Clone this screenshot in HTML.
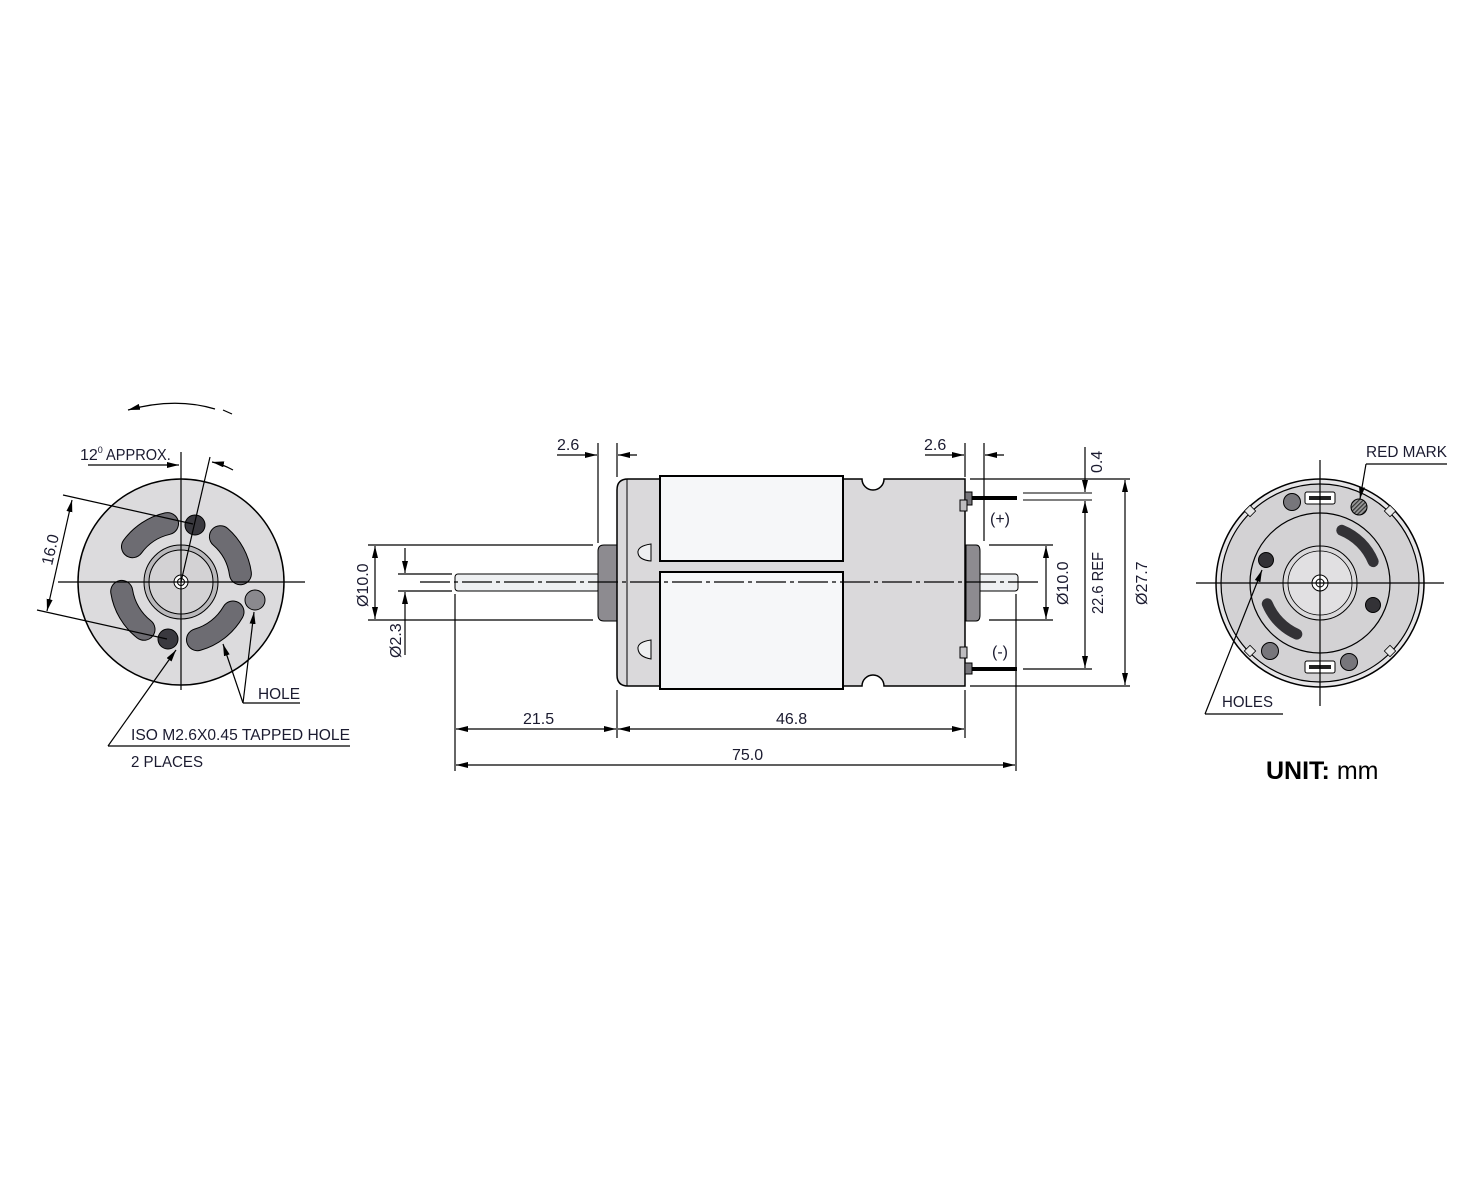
<!DOCTYPE html>
<html><head><meta charset="utf-8"><style>
html,body{margin:0;padding:0;background:#fff}
svg{display:block}
text{font-family:"Liberation Sans",sans-serif;fill:#1b1b30;font-size:16px}
</style></head><body>
<svg width="1482" height="1177" viewBox="0 0 1482 1177" xmlns="http://www.w3.org/2000/svg">
<defs>
<marker id="a" viewBox="0 0 12 6" refX="12" refY="3" markerWidth="12" markerHeight="6" orient="auto-start-reverse" markerUnits="userSpaceOnUse"><path d="M0,0 L12,3 L0,6 Z" fill="#000"/></marker>
<pattern id="h" width="3" height="3" patternUnits="userSpaceOnUse" patternTransform="rotate(45)"><rect width="3" height="3" fill="#999"/><rect width="1.2" height="3" fill="#333"/></pattern>
</defs>

<!-- ============ LEFT VIEW ============ -->
<circle cx="181" cy="582" r="103" fill="#dcdbdd" stroke="#000" stroke-width="1.5"/>
<g fill="none" stroke-linecap="round">
<g stroke="#000" stroke-width="23">
<path d="M132.5,546.7 A60,60 0 0 1 167.5,523.6"/><path d="M220.4,536.7 A60,60 0 0 1 240.4,573.7"/>
<path d="M144,629.3 A60,60 0 0 1 121.7,591.4"/><path d="M233,612 A60,60 0 0 1 197.5,639.7"/>
</g>
<g stroke="#6d6c72" stroke-width="21">
<path d="M132.5,546.7 A60,60 0 0 1 167.5,523.6"/><path d="M220.4,536.7 A60,60 0 0 1 240.4,573.7"/>
<path d="M144,629.3 A60,60 0 0 1 121.7,591.4"/><path d="M233,612 A60,60 0 0 1 197.5,639.7"/>
</g></g>
<circle cx="195" cy="525" r="10" fill="#3a393f" stroke="#000"/>
<circle cx="168" cy="639" r="10" fill="#3a393f" stroke="#000"/>
<circle cx="255" cy="600" r="10" fill="#8a898e" stroke="#000"/>
<circle cx="181" cy="582" r="37" fill="#b9b8bb" stroke="#000"/>
<circle cx="181" cy="582" r="32" fill="#d3d2d4" stroke="#000"/>
<circle cx="181" cy="582" r="7" fill="#fff" stroke="#000"/>
<circle cx="181" cy="582" r="3.5" fill="#fff" stroke="#000"/>
<g stroke="#000" stroke-width="1.2" fill="none">
<line x1="58" y1="582" x2="305" y2="582"/>
<line x1="181" y1="452" x2="181" y2="690"/>
<line x1="181" y1="582" x2="210" y2="457"/>
<line x1="63" y1="495" x2="193" y2="524"/>
<line x1="37" y1="610" x2="167" y2="639"/>
<line x1="72" y1="500" x2="47" y2="611" marker-start="url(#a)" marker-end="url(#a)"/>
<line x1="88" y1="465" x2="179" y2="465" marker-end="url(#a)"/>
<path d="M233,470 Q222,464 212,462" marker-end="url(#a)"/>
<path d="M215,409 Q175,397 128,410" marker-end="url(#a)"/>
<line x1="223" y1="410" x2="232" y2="414"/>
<line x1="243" y1="703" x2="300" y2="703"/>
<line x1="243" y1="703" x2="223" y2="644" marker-end="url(#a)"/>
<line x1="243" y1="703" x2="254" y2="612" marker-end="url(#a)"/>
<line x1="108" y1="746" x2="350" y2="746"/>
<line x1="108" y1="746" x2="176" y2="650" marker-end="url(#a)"/>
</g>
<text x="80" y="460">12<tspan font-size="9" dy="-7">0</tspan><tspan dy="7" textLength="68" lengthAdjust="spacingAndGlyphs"> APPROX.</tspan></text>
<text transform="translate(52,566) rotate(-77)">16.0</text>
<text x="258" y="699" textLength="42" lengthAdjust="spacingAndGlyphs">HOLE</text>
<text x="131" y="740" textLength="219" lengthAdjust="spacingAndGlyphs">ISO M2.6X0.45 TAPPED HOLE</text>
<text x="131" y="767" textLength="72" lengthAdjust="spacingAndGlyphs">2 PLACES</text>

<!-- ============ MIDDLE VIEW ============ -->
<rect x="455" y="574" width="145" height="17" rx="3" fill="#eef0f2" stroke="#000"/>
<rect x="975" y="574" width="43" height="17" rx="3" fill="#eef0f2" stroke="#000"/>
<path d="M598,551 Q598,545 604,545 L617,545 L617,621 L604,621 Q598,621 598,615 Z" fill="#8d8b90" stroke="#000"/>
<path d="M966,545 L976,545 Q980,545 980,551 L980,615 Q980,621 976,621 L966,621 Z" fill="#8d8b90" stroke="#000"/>
<path d="M628,479 L862,479 A11,11 0 0 0 884,479 L965,479 L965,686 L884,686 A11,11 0 0 0 862,686 L628,686 Q617,686 617,675 L617,490 Q617,479 628,479 Z" fill="#dad9db" stroke="#000" stroke-width="1.5"/>
<line x1="627" y1="479" x2="627" y2="686" stroke="#000"/>
<rect x="660" y="476" width="183" height="85" fill="#f6f7f9" stroke="#000" stroke-width="2"/>
<rect x="660" y="572" width="183" height="117" fill="#f6f7f9" stroke="#000" stroke-width="2"/>
<path d="M651,544 Q637,546 638,553 Q639,560 651,561 Z" fill="#eeeff1" stroke="#000"/>
<path d="M651,640 Q637,642 638,649 Q639,657 651,659 Z" fill="#eeeff1" stroke="#000"/>
<rect x="965" y="492" width="7" height="13" fill="#77767b" stroke="#000"/>
<rect x="960" y="500" width="7" height="11" fill="#bdbcbf" stroke="#000"/>
<rect x="960" y="647" width="7" height="11" fill="#bdbcbf" stroke="#000"/>
<rect x="965" y="663" width="7" height="11" fill="#77767b" stroke="#000"/>
<line x1="972" y1="498" x2="1017" y2="498" stroke="#000" stroke-width="4"/>
<line x1="972" y1="669" x2="1017" y2="669" stroke="#000" stroke-width="4"/>
<g stroke="#000" stroke-width="1.2" fill="none">
<line x1="420" y1="582" x2="1040" y2="582" stroke-dasharray="30,4,4,4"/>
<line x1="368" y1="545" x2="593" y2="545"/><line x1="368" y1="620" x2="593" y2="620"/>
<line x1="375" y1="546" x2="375" y2="619" marker-start="url(#a)" marker-end="url(#a)"/>
<line x1="398" y1="574" x2="452" y2="574"/><line x1="398" y1="591" x2="452" y2="591"/>
<line x1="405" y1="548" x2="405" y2="573" marker-end="url(#a)"/>
<line x1="405" y1="655" x2="405" y2="592" marker-end="url(#a)"/>
<line x1="598" y1="443" x2="598" y2="543"/><line x1="617" y1="443" x2="617" y2="477"/>
<line x1="557" y1="455" x2="597" y2="455" marker-end="url(#a)"/>
<line x1="637" y1="455" x2="618" y2="455" marker-end="url(#a)"/>
<line x1="965" y1="443" x2="965" y2="477"/><line x1="984" y1="443" x2="984" y2="541"/>
<line x1="925" y1="455" x2="964" y2="455" marker-end="url(#a)"/>
<line x1="1004" y1="455" x2="985" y2="455" marker-end="url(#a)"/>
<line x1="455" y1="594" x2="455" y2="771"/><line x1="1016" y1="594" x2="1016" y2="771"/>
<line x1="617" y1="690" x2="617" y2="738"/><line x1="965" y1="690" x2="965" y2="738"/>
<line x1="456" y1="729" x2="616" y2="729" marker-start="url(#a)" marker-end="url(#a)"/>
<line x1="618" y1="729" x2="964" y2="729" marker-start="url(#a)" marker-end="url(#a)"/>
<line x1="456" y1="765" x2="1015" y2="765" marker-start="url(#a)" marker-end="url(#a)"/>
<line x1="989" y1="545" x2="1053" y2="545"/><line x1="989" y1="620" x2="1053" y2="620"/>
<line x1="1046" y1="546" x2="1046" y2="619" marker-start="url(#a)" marker-end="url(#a)"/>
<line x1="970" y1="479" x2="1130" y2="479"/><line x1="970" y1="686" x2="1130" y2="686"/>
<line x1="1125" y1="480" x2="1125" y2="685" marker-start="url(#a)" marker-end="url(#a)"/>
<line x1="1023" y1="493" x2="1092" y2="493" stroke-width="0.9"/><line x1="1023" y1="500" x2="1092" y2="500" stroke-width="0.9"/>
<line x1="1023" y1="669" x2="1092" y2="669"/>
<line x1="1085" y1="447" x2="1085" y2="492" marker-end="url(#a)"/>
<line x1="1085" y1="501" x2="1085" y2="668" marker-start="url(#a)" marker-end="url(#a)"/>
</g>
<text x="557" y="450">2.6</text>
<text x="924" y="450">2.6</text>
<text x="523" y="724">21.5</text>
<text x="776" y="724">46.8</text>
<text x="732" y="760">75.0</text>
<text x="990" y="524">(+)</text>
<text x="992" y="657">(-)</text>
<text transform="translate(368,607) rotate(-90)">Ø10.0</text>
<text transform="translate(401,658) rotate(-90)">Ø2.3</text>
<text transform="translate(1068,605) rotate(-90)">Ø10.0</text>
<text transform="translate(1103,614) rotate(-90)" textLength="62" lengthAdjust="spacingAndGlyphs">22.6 REF</text>
<text transform="translate(1147,605) rotate(-90)">Ø27.7</text>
<text transform="translate(1102,473) rotate(-90)">0.4</text>

<!-- ============ RIGHT VIEW ============ -->
<circle cx="1320" cy="583" r="104" fill="#e6e5e7" stroke="#000" stroke-width="1.5"/>
<circle cx="1320" cy="583" r="99" fill="#d3d2d4" stroke="#000" stroke-width="1.2"/>
<g fill="#e8e8e8" stroke="#000" stroke-width="0.8">
<rect x="1246" y="507" width="8" height="8" transform="rotate(-45 1250 511)"/>
<rect x="1386" y="507" width="8" height="8" transform="rotate(45 1390 511)"/>
<rect x="1246" y="647" width="8" height="8" transform="rotate(45 1250 651)"/>
<rect x="1386" y="647" width="8" height="8" transform="rotate(-45 1390 651)"/>
</g>
<circle cx="1320" cy="583" r="70" fill="#d3d2d4" stroke="#000" stroke-width="1.2"/>
<g fill="none" stroke-linecap="round" stroke="#333236" stroke-width="11">
<path d="M1341.8,530.3 A57,57 0 0 1 1373.2,561.6"/>
<path d="M1296.8,634.1 A57,57 0 0 1 1267.3,603.8"/>
</g>
<circle cx="1266" cy="560" r="7.5" fill="#333236" stroke="#000"/>
<circle cx="1373" cy="605" r="7.5" fill="#333236" stroke="#000"/>
<circle cx="1292" cy="502" r="8.5" fill="#77767b" stroke="#000"/>
<circle cx="1270" cy="651" r="8.5" fill="#77767b" stroke="#000"/>
<circle cx="1349" cy="662" r="8.5" fill="#77767b" stroke="#000"/>
<circle cx="1359" cy="507" r="8" fill="url(#h)" stroke="#000"/>
<rect x="1305" y="492" width="30" height="12" rx="2" fill="#fff" stroke="#000"/>
<rect x="1309" y="496" width="22" height="4" fill="#222"/>
<rect x="1305" y="661" width="30" height="12" rx="2" fill="#fff" stroke="#000"/>
<rect x="1309" y="665" width="22" height="4" fill="#222"/>
<circle cx="1320" cy="583" r="37" fill="#d9d8da" stroke="#000"/>
<circle cx="1320" cy="583" r="32" fill="#e1e0e2" stroke="#000" stroke-width="0.8"/>
<circle cx="1320" cy="583" r="8" fill="#fff" stroke="#000"/>
<circle cx="1320" cy="583" r="4" fill="#fff" stroke="#000"/>
<g stroke="#000" stroke-width="1.2" fill="none">
<line x1="1196" y1="583" x2="1444" y2="583"/>
<line x1="1320" y1="460" x2="1320" y2="706"/>
<line x1="1366" y1="464" x2="1447" y2="464"/>
<line x1="1366" y1="464" x2="1360" y2="499" marker-end="url(#a)"/>
<line x1="1205" y1="714" x2="1283" y2="714"/>
<line x1="1205" y1="714" x2="1262" y2="570" marker-end="url(#a)"/>
</g>
<text x="1366" y="457" textLength="81" lengthAdjust="spacingAndGlyphs">RED MARK</text>
<text x="1222" y="707" textLength="51" lengthAdjust="spacingAndGlyphs">HOLES</text>
<text x="1266" y="779" style="font-size:25px;fill:#000"><tspan font-weight="bold">UNIT:</tspan> mm</text>
</svg>
</body></html>
